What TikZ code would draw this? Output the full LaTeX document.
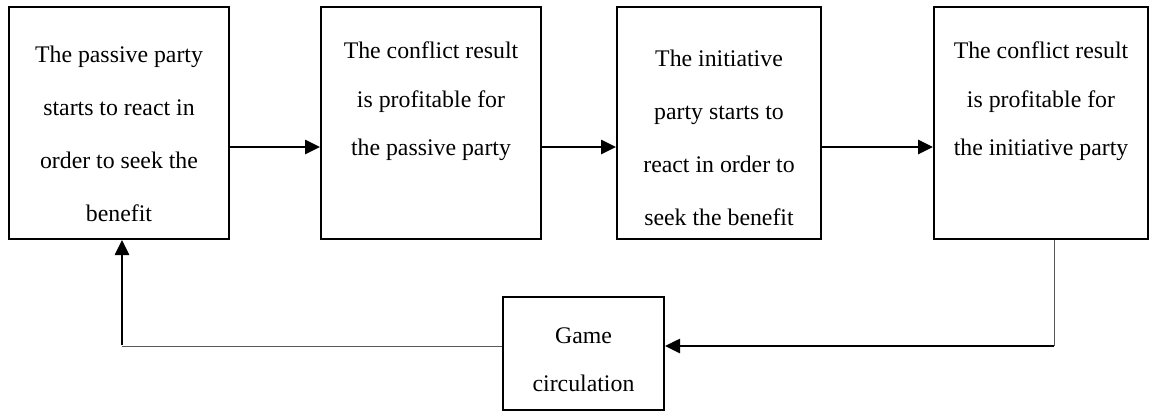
\documentclass[tikz,border=0pt]{standalone}
\usepackage{fontspec}
\setmainfont{Liberation Serif}
\usetikzlibrary{arrows.meta}
\begin{document}
\begin{tikzpicture}[x=1pt,y=-1pt,
  box/.style={draw,line width=2pt,inner sep=0pt},
  txt/.style={inner sep=0pt,anchor=north,align=center,font=\fontsize{23.8}{53}\selectfont},
  txtb/.style={txt,font=\fontsize{23.8}{48.5}\selectfont},
  flow/.style={line width=2.6pt,-{Triangle[length=15pt,width=14pt]}},
  thinline/.style={line width=1pt,draw=black!65}]
\useasboundingbox (0,0) rectangle (1160,413);
% boxes
\node[box,minimum width=220pt,minimum height=232pt] (b1) at (119,123) {};
\node[box,minimum width=220pt,minimum height=232pt] (b2) at (431,123) {};
\node[box,minimum width=204pt,minimum height=232pt] (b3) at (719,123) {};
\node[box,minimum width=214pt,minimum height=232pt] (b4) at (1041,123) {};
\node[box,minimum width=161pt,minimum height=113pt] (g) at (583.5,353.5) {};
% texts
\node[txt] (t1) at (119,45.7) {The passive party\\starts to react in\\order to seek the\\benefit};
\node[txtb] (t2) at (431,41.7) {The conflict result\\is profitable for\\the passive party};
\node[txt] (t3) at (719,49.7) {The initiative\\party starts to\\react in order to\\seek the benefit};
\node[txtb] (t4) at (1041,41.7) {The conflict result\\is profitable for\\the initiative party};
\node[txtb] (tg) at (583.5,327.5) {Game\\circulation};
% forward arrows
\draw[flow] ([yshift=-24pt]b1.east) -- ([yshift=-24pt]b2.west);
\draw[flow] ([yshift=-24pt]b2.east) -- ([yshift=-24pt]b3.west);
\draw[flow] ([yshift=-24pt]b3.east) -- ([yshift=-24pt]b4.west);
% feedback loop
\coordinate (r) at (1054,346);
\coordinate (l) at (122,346);
\draw[thinline] (b4.south -| r) -- (r);
\draw[flow] (r) -- (g.east |- r);
\draw[thinline] (g.west |- l) -- (l);
\draw[flow] ([yshift=1pt]l) -- (l |- b1.south);
\end{tikzpicture}
\end{document}
